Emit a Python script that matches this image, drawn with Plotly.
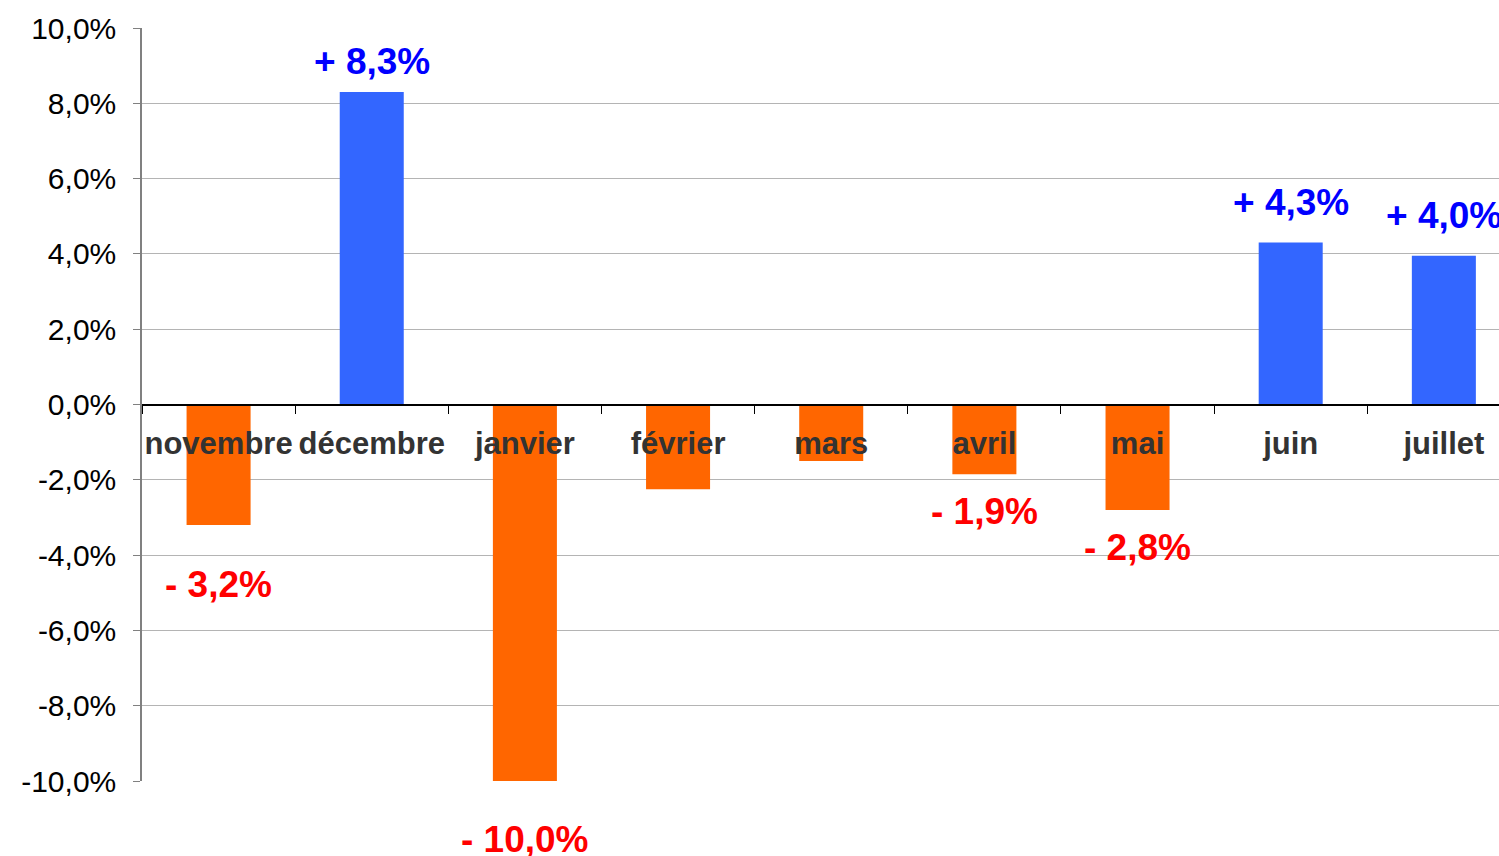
import plotly.graph_objects as go

# Monthly change (%)
months = ["novembre", "décembre", "janvier", "février", "mars", "avril", "mai", "juin", "juillet"]
change = [-3.2, 8.3, -10.0, -2.25, -1.5, -1.85, -2.8, 4.3, 3.95]
labels = ["- 3,2%", "+ 8,3%", "- 10,0%", "", "", "- 1,9%", "- 2,8%", "+ 4,3%", "+ 4,0%"]
y_ticks = [10, 8, 6, 4, 2, 0, -2, -4, -6, -8, -10]

# label offsets in pixels from the bar end (style)
label_shift = [-60, 31, -58, 0, 0, -37, -38, 40, 40]

bar_colors = ["#3366FF" if v > 0 else "#FF6600" for v in change]

fig = go.Figure()

fig.add_trace(go.Bar(x=months,
                     y=change,
                     marker=dict(color=bar_colors, line=dict(width=0)),
                     hoverinfo='skip'))

for m, v, txt, dy in zip(months, change, labels, label_shift):
    if not txt:
        continue
    fig.add_annotation(x=m, y=v, text=txt, showarrow=False,
                       yanchor='middle', yshift=dy,
                       font=dict(family='Liberation Sans', size=37,
                                 color='#0000FF' if v > 0 else '#FF0000',
                                 weight='bold'))

fig.update_layout(width=1499,
                  height=856,
                  plot_bgcolor='#fff',
                  paper_bgcolor='#fff',
                  showlegend=False,
                  bargap=0.582,
                  margin=dict(l=142, r=0, t=28, b=75),
                  font=dict(family='Liberation Sans', color='#000'),
                  xaxis=dict(anchor='free',
                             position=0.5,
                             automargin=False,
                             range=[-0.5, 8.36],   # last column runs past the right edge
                             tickangle=0,
                             showline=True,
                             linecolor='#000',
                             linewidth=1.5,
                             ticks='outside',
                             ticklen=9,
                             tickcolor='#000',
                             tickson='boundaries',
                             showgrid=False,
                             ticklabelstandoff=12,
                             tickfont=dict(size=31, color='#333', weight='bold')),
                  yaxis=dict(range=[-10, 10],
                             automargin=False,
                             tickvals=y_ticks,
                             ticktext=[f"{v:.1f}".replace('.', ',') + '%' for v in y_ticks],
                             showline=True,
                             linecolor='#808080',
                             linewidth=1.5,
                             ticks='outside',
                             ticklen=7,
                             tickcolor='#808080',
                             showgrid=True,
                             gridcolor='#b4b4b4',
                             gridwidth=1.3,
                             zeroline=False,
                             ticklabelstandoff=11,
                             tickfont=dict(size=30, color='#000')))

config = {'displayModeBar': False}
# drop the default page margin so the figure fills the window
fig.write_html("out.html", config=config,
               post_script="document.body.style.margin='0';")
